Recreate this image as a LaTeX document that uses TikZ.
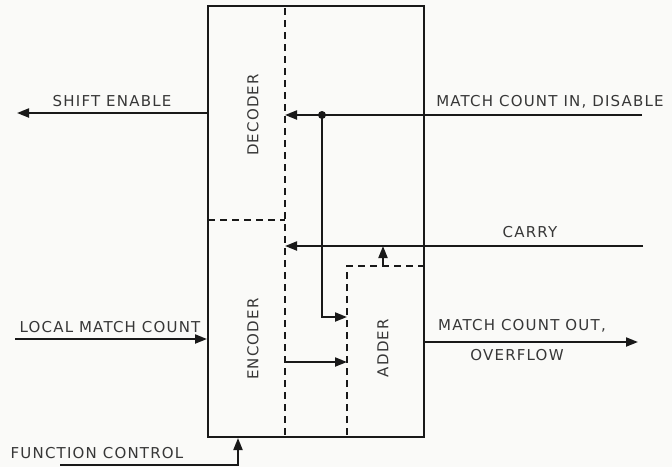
\documentclass[tikz,border=0pt]{standalone}
\usepackage{fontspec}
\setsansfont{DejaVu Sans}[LetterSpace=8]
\usetikzlibrary{arrows.meta}
\definecolor{paper}{RGB}{250,250,248}
\definecolor{ink}{RGB}{25,25,25}
\definecolor{lettering}{RGB}{55,55,55}

\begin{document}
\begin{tikzpicture}[x=1pt, y=-1pt,
  unit/.style={draw=ink, line width=2pt, rectangle, minimum width=216pt,
               minimum height=431pt, inner sep=0pt},
  part/.style={draw=ink, line width=1.6pt, dash pattern=on 7pt off 5pt},
  sig/.style={draw=ink, line width=2pt, -{Triangle[length=12pt, width=9pt]}},
  lbl/.style={text=lettering, font=\fontsize{15}{17}\selectfont\sffamily, inner sep=0pt},
  blk/.style={lbl, rotate=90},
]
\useasboundingbox[fill=paper] (0,0) rectangle (672,467);

% ---- Main unit and its inner partitions ----
\node[unit] (box) at (316,221.5) {};
\draw[part] (285,8) -- (285,435);
\draw[part] (208,220) -- (285,220);
\draw[part] (347,435) -- (347,266) -- (424,266);

\node[blk] (dec) at (253,115) {DECODER};
\node[blk] (enc) at (253,339) {ENCODER};
\node[blk] (add) at (383,348) {ADDER};

% ---- Free ends of the signal lines ----
\coordinate (shiftout) at (17,113);
\coordinate (mcin)     at (642,115);
\coordinate (carryin)  at (643,246);
\coordinate (localin)  at (15,339);
\coordinate (mcout)    at (638,342);
\coordinate (fcin)     at (60,465);
\coordinate (tap)      at (322,115);
\coordinate (decin)    at (285,115);
\coordinate (carrydec) at (285,246);
\coordinate (addtop)   at (383,266);
\coordinate (carrytap) at (383,246);
\coordinate (addin)    at (347,317);
\coordinate (encout)   at (285,362);
\coordinate (addin2)   at (347,362);
\coordinate (fcbend)   at (238,465);

% ---- Signals ----
\draw[sig] (box.west |- shiftout) -- (shiftout);
\draw[sig] (localin) -- (box.west |- localin);
\draw[sig] (box.east |- mcout) -- (mcout);
\draw[sig] (mcin) -- (decin);
\draw[sig] (carryin) -- (carrydec);
\draw[sig] (addtop) -- (carrytap);
\draw[sig] (tap) |- (addin);
\draw[sig] (encout) -- (addin2);
\draw[sig] (fcin) -- (fcbend) -- (fcbend |- box.south);
\fill[ink] (tap) circle (4pt);

% ---- Signal names ----
\node[lbl] (nshift) at (112,101) {SHIFT ENABLE};
\node[lbl] (nmcin)  at (550,102) {MATCH COUNT IN, DISABLE};
\node[lbl] (ncarry) at (530,232) {CARRY};
\node[lbl] (nlocal) at (110,327) {LOCAL MATCH COUNT};
\node[lbl] (nmcout) at (522,326) {MATCH COUNT OUT,};
\node[lbl] (novf)   at (517,355) {OVERFLOW};
\node[lbl] (nfc)    at (97,453)  {FUNCTION CONTROL};
\end{tikzpicture}
\end{document}
